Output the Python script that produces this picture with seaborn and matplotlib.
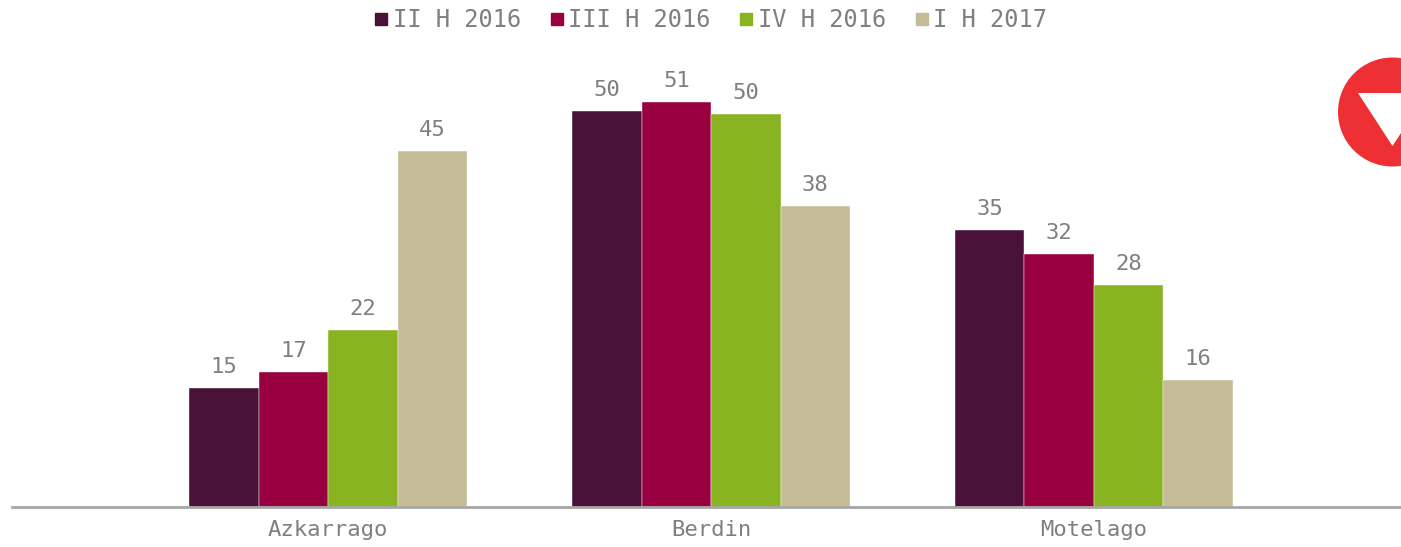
import numpy as np
import pandas as pd
import matplotlib
matplotlib.use("Agg")
import matplotlib.pyplot as plt
import matplotlib.patches as mpatches
from matplotlib.lines import Line2D
import seaborn as sns

categories = ["Azkarrago", "Berdin", "Motelago"]
series = ["II H 2016", "III H 2016", "IV H 2016", "I H 2017"]
values_II_2016 = [15, 50, 35]
values_III_2016 = [17, 51.1, 32]
values_IV_2016 = [22.3, 49.6, 28]
values_I_2017 = [45, 38, 16]
colors = ["#4B1239", "#990040", "#8AB321", "#C5BC97"]

rows = []
for s, vals in zip(series, [values_II_2016, values_III_2016, values_IV_2016, values_I_2017]):
    for c, v in zip(categories, vals):
        rows.append({"cat": c, "series": s, "value": v})
df = pd.DataFrame(rows)

sns.set_theme(style="white")
plt.rcParams["font.family"] = ["DejaVu Sans Mono"]
TXT = "#7F7F7F"

W, H = 1401, 547
fig = plt.figure(figsize=(W / 100, H / 100), dpi=100)
ax = fig.add_axes([12 / W, 40 / H, (W - 12) / W, 475 / H])

sns.barplot(data=df, x="cat", y="value", hue="series", order=categories,
            hue_order=series, palette=colors, width=0.726, gap=0,
            saturation=1, ax=ax, legend=False, edgecolor="white", linewidth=0.3)

for cont in ax.containers:
    ax.bar_label(cont, fmt="%.0f", padding=8, color=TXT, fontsize=16)

ax.set_ylim(0, 60)
ax.set_xlim(-0.826, 2.802)
ax.set_xlabel("")
ax.set_ylabel("")
ax.set_yticks([])
for side in ["top", "right", "left"]:
    ax.spines[side].set_visible(False)
ax.spines["bottom"].set_color("#A6A6A6")
ax.spines["bottom"].set_linewidth(2)
ax.tick_params(axis="x", length=0, pad=9, labelsize=16, colors=TXT)

handles = [Line2D([0], [0], marker="s", linestyle="none", markersize=8,
                  markerfacecolor=c, markeredgecolor=c) for c in colors]
leg = fig.legend(handles, series, loc="center", bbox_to_anchor=(711 / W, 1 - 20 / H),
                 ncol=4, frameon=False, fontsize=17, handlelength=0.55,
                 handletextpad=0.2, columnspacing=1.25, borderaxespad=0)
for t in leg.get_texts():
    t.set_color(TXT)

# decorative logo at top right
ov = fig.add_axes([0, 0, 1, 1], facecolor="none")
ov.set_xlim(0, W)
ov.set_ylim(H, 0)
ov.axis("off")
ov.add_patch(mpatches.Circle((1392.5, 112), 54.5, color="#EE3035", lw=0))
ov.add_patch(mpatches.Polygon([(1358, 93), (1427, 93), (1392.5, 146)],
                              closed=True, color="white", lw=0))

fig.savefig("out.png", dpi=100)
